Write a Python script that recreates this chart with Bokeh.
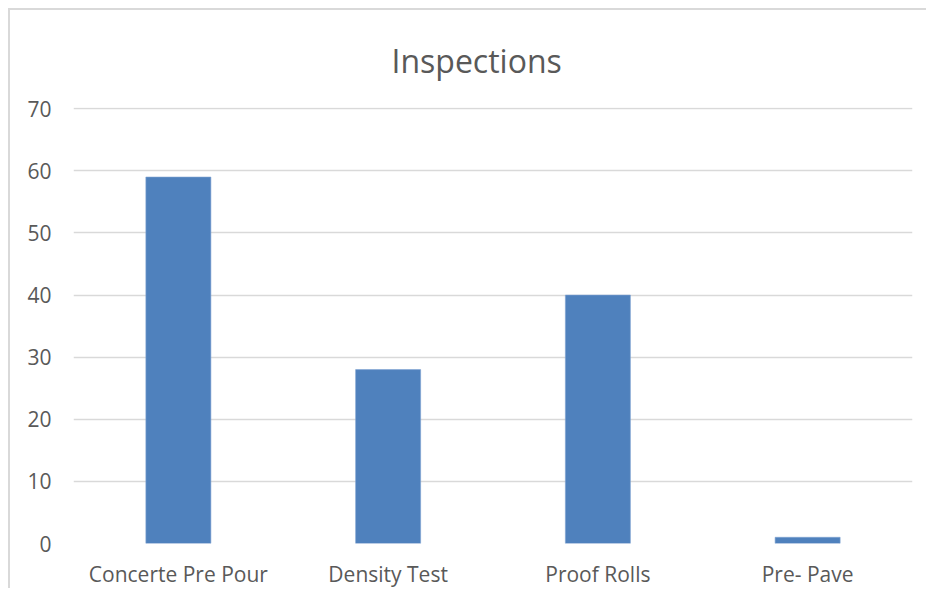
from bokeh.plotting import figure
from bokeh.models import FactorRange, Range1d
from bokeh.embed import file_html
from bokeh.resources import INLINE

categories = ["Concerte Pre Pour", "Density Test", "Proof Rolls", "Pre- Pave"]
values = [59, 28, 40, 1]
y_ticks = [0, 10, 20, 30, 40, 50, 60, 70]
title_text = "Inspections"

TEXT = "#595959"
FONT = "Open Sans"

p = figure(
    width=918, height=580,
    x_range=FactorRange(*categories, range_padding=0),
    y_range=Range1d(0, 70.2),
    output_backend="svg", toolbar_location=None,
    min_border_left=63, min_border_right=16, min_border_bottom=30, min_border_top=97,
)
p.styles = {"margin-left": "8px", "margin-top": "8px",
            "border-top": "2px solid #d9d9d9", "border-left": "2px solid #d9d9d9"}

p.vbar(x=categories, top=values, width=0.31, fill_color="#4F81BD", line_color="#7FA3D1", line_width=0.6)

p.title.text = title_text
p.title.align = "left"
p.title.vertical_align = "middle"
p.title.text_font = FONT
p.title.text_font_size = "32px"
p.title.text_font_style = "normal"
p.title.text_color = TEXT
p.title.offset = 318
p.title.standoff = 50

p.outline_line_color = None
p.xgrid.grid_line_color = None
p.ygrid.grid_line_color = "#d9d9d9"
p.ygrid.grid_line_width = 1.5
p.yaxis.ticker = y_ticks

for ax in (p.xaxis[0], p.yaxis[0]):
    ax.axis_line_color = None
    ax.major_tick_line_color = None
    ax.minor_tick_line_color = None
    ax.major_label_text_font = FONT
    ax.major_label_text_font_size = "21px"
    ax.major_label_text_color = TEXT

p.yaxis.major_label_standoff = 16
p.xaxis.major_label_standoff = 10

open("out.html", "w").write(file_html(p, INLINE))
